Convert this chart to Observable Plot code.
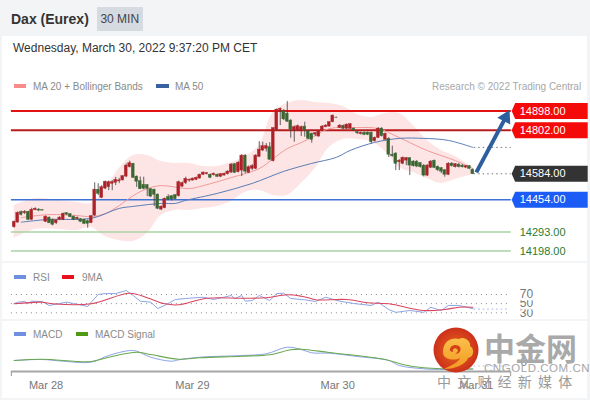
<!DOCTYPE html>
<html>
<head>
<meta charset="utf-8">
<script src="https://cdn.jsdelivr.net/npm/d3@7"></script>
<script src="https://cdn.jsdelivr.net/npm/@observablehq/plot@0.6"></script>
<style>
  html,body{margin:0;padding:0;background:#fff;}
  body{width:590px;height:400px;position:relative;overflow:hidden;font-family:"Liberation Sans",Arial,sans-serif;}
  .abs{position:absolute;white-space:nowrap;}
  .plot{position:absolute;left:0;}
  .lg{color:#8a8a8a;font-size:10px;line-height:12px;}
  .sw{position:absolute;height:4px;width:12px;}
</style>
</head>
<body>
<div class="abs" style="left:0;top:0;width:590px;height:36px;background:#f3f4f6"></div>
<div class="abs" style="left:0;top:36px;width:2px;height:364px;background:#f3f4f6"></div>
<div class="abs" style="left:587px;top:36px;width:3px;height:364px;background:#f3f4f6"></div>
<div class="abs" style="left:0;top:398px;width:590px;height:2px;background:#f3f4f6"></div>
<div class="abs" style="left:0;top:261px;width:590px;height:2px;background:#f3f4f6"></div>
<div class="abs" style="left:0;top:318.5px;width:590px;height:2px;background:#f3f4f6"></div>
<div class="abs" style="left:11px;top:10px;font-size:14px;line-height:18px;font-weight:bold;color:#333">Dax (Eurex)</div>
<div class="abs" style="left:97px;top:7px;width:45.5px;height:24px;background:#d6dae1;color:#444;font-size:12px;line-height:24px;text-align:center">30 MIN</div>
<div class="abs" style="left:13px;top:41px;font-size:12px;line-height:15px;color:#333">Wednesday, March 30, 2022 9:37:20 PM CET</div>

<div class="sw" style="left:14px;top:84px;background:#f98b8b"></div>
<div class="abs lg" style="left:33px;top:81px">MA 20 + Bollinger Bands</div>
<div class="sw" style="left:156px;top:84px;width:13px;background:#37619f"></div>
<div class="abs lg" style="left:175px;top:81px">MA 50</div>
<div class="abs lg" style="left:432px;top:81px;color:#a8a8a8">Research © 2022 Trading Central</div>

<div class="sw" style="left:14px;top:275px;background:#6f8fe0"></div>
<div class="abs lg" style="left:33px;top:272px">RSI</div>
<div class="sw" style="left:62px;top:275px;background:#e8101c"></div>
<div class="abs lg" style="left:82px;top:272px">9MA</div>

<div class="sw" style="left:14px;top:332px;background:#6f8fe0"></div>
<div class="abs lg" style="left:33px;top:329px">MACD</div>
<div class="sw" style="left:76px;top:332px;background:#4f9a12"></div>
<div class="abs lg" style="left:95px;top:329px">MACD Signal</div>

<div id="main" class="plot" style="top:70px"></div>
<div id="rsi" class="plot" style="top:262px"></div>
<div id="macd" class="plot" style="top:320px"></div>

<!-- watermark -->
<svg class="abs" style="left:433px;top:327px" width="46" height="46" viewBox="-23 -23 46 46">
  <defs><radialGradient id="lg" cx="50%" cy="50%" r="55%"><stop offset="0%" stop-color="#ea6a1e"/><stop offset="100%" stop-color="#c92a1a"/></radialGradient>
  <linearGradient id="yg" x1="0" y1="0" x2="0" y2="1"><stop offset="0%" stop-color="#f9c04a"/><stop offset="100%" stop-color="#f39a22"/></linearGradient></defs>
  <circle r="22.5" fill="url(#lg)"/>
  <path d="M-13,2C-13,-10 -3,-13 3,-11C8,-14 15,-9 14,-4C19,-1 18,7 12,8C10,14 0,19 -12,19C-4,15 3,12 4,8C-2,11 -13,10 -13,2Z" fill="url(#yg)"/>
  <path d="M-6,1C-7,-5 1,-7 4,-3C6,1 2,5 -1,3C1,3 3,1 1,-1C-1,-3 -4,-1 -3,2Z" fill="#d4401a"/>
</svg>
<div class="abs" style="left:484px;top:328px;font-family:'Noto Sans CJK SC';font-weight:700;font-size:31px;line-height:38px;color:#a9a9a9;letter-spacing:0">中金网</div>
<div class="abs" style="left:484px;top:362px;font-size:11.5px;line-height:13px;color:#a6a6a6;letter-spacing:.55px">CNGOLD.COM.CN</div>
<div class="abs" style="left:437px;top:373px;font-family:'Noto Sans CJK SC';font-size:14px;line-height:17px;color:#9a9a9a;letter-spacing:6.2px">中文财经新媒体</div>

<script>
// ---- candles (30 min bars, index 0..131) ----
const candleDirection =
  "RRGRGRRGGR"+"GGRRRGGGRG"+"GGRRGRRRRR"+"RRRRGGGGGG"+"GGRRGGGRRR"+"RRRRRRGRGR"+"RRRGRRGRRR"+
  "RRRGRRRGGG"+"RRRGGGRRRR"+"RRGRGRRGGR"+"GGGRRGRGGG"+"RRRGGGGGRR"+"GGGGRGRGGR"+"GG";
const bodyTop = [
14344,14389,14392,14394,14394,14404,14409,14405,14402,14370,
14365,14354,14351,14365,14384,14387,14382,14370,14364,14357,
14354,14347,14372,14505,14504,14517,14544,14542,14542,14554,
14551,14572,14625,14637,14634,14570,14547,14529,14527,14507,
14504,14480,14420,14459,14467,14472,14477,14542,14537,14559,
14554,14560,14564,14579,14590,14587,14579,14584,14579,14582,
14584,14595,14630,14632,14639,14675,14675,14617,14622,14675,
14705,14722,14722,14717,14812,14905,14909,14896,14885,14850,
14817,14822,14817,14820,14795,14784,14787,14797,14820,14825,
14842,14875,14865,14825,14824,14830,14832,14810,14792,14789,
14789,14790,14789,14764,14810,14810,14784,14759,14679,14685,
14649,14664,14662,14662,14645,14645,14637,14625,14625,14645,
14649,14619,14612,14602,14634,14635,14632,14630,14625,14622,
14622,14604];
const bodyBottom = [
14317,14340,14379,14387,14354,14354,14402,14400,14400,14344,
14337,14329,14337,14354,14354,14380,14367,14354,14357,14344,
14334,14334,14337,14375,14484,14464,14510,14517,14534,14539,
14546,14551,14570,14617,14564,14544,14507,14509,14509,14470,
14479,14409,14405,14412,14454,14456,14457,14472,14520,14537,
14550,14550,14554,14560,14579,14582,14564,14577,14569,14569,
14575,14582,14590,14589,14592,14600,14595,14589,14609,14609,
14669,14700,14709,14654,14647,14804,14902,14856,14845,14805,
14800,14800,14800,14804,14759,14754,14780,14770,14800,14817,
14820,14842,14864,14814,14809,14809,14809,14800,14787,14782,
14779,14779,14742,14747,14764,14772,14754,14679,14672,14634,
14642,14634,14650,14625,14622,14620,14617,14575,14575,14614,
14614,14602,14595,14579,14579,14622,14617,14617,14617,14615,
14609,14582];
const wickHigh = [
14348,14393,14398,14400,14396,14412,14414,14410,14403,14373,
14368,14358,14353,14370,14388,14390,14385,14373,14368,14360,
14358,14353,14375,14539,14534,14525,14548,14548,14550,14566,
14561,14575,14633,14647,14636,14573,14568,14567,14530,14510,
14508,14483,14423,14463,14479,14475,14480,14548,14543,14567,
14558,14563,14568,14583,14593,14590,14583,14588,14583,14585,
14588,14600,14635,14635,14645,14680,14680,14623,14630,14680,
14745,14742,14735,14740,14815,14908,14913,14905,14945,14855,
14823,14828,14823,14842,14800,14788,14790,14800,14825,14830,
14845,14878,14867,14830,14828,14833,14835,14813,14795,14793,
14793,14793,14793,14768,14815,14815,14788,14765,14722,14690,
14655,14668,14665,14665,14650,14650,14640,14630,14630,14650,
14653,14623,14615,14605,14640,14640,14635,14635,14630,14625,
14625,14608];
const wickLow = [
14312,14338,14373,14380,14350,14350,14400,14395,14399,14340,
14335,14324,14330,14350,14350,14375,14365,14350,14353,14340,
14330,14312,14335,14370,14475,14460,14505,14500,14500,14525,
14535,14548,14565,14613,14560,14516,14505,14504,14470,14465,
14420,14405,14400,14409,14450,14448,14455,14468,14515,14530,
14542,14548,14550,14558,14575,14578,14560,14573,14565,14565,
14573,14578,14587,14585,14588,14570,14585,14585,14600,14605,
14665,14695,14693,14650,14643,14800,14825,14850,14840,14762,
14742,14795,14770,14767,14755,14737,14770,14768,14798,14814,
14818,14839,14863,14810,14805,14805,14805,14795,14780,14778,
14775,14775,14734,14743,14760,14768,14750,14665,14667,14600,
14600,14630,14625,14575,14618,14615,14613,14568,14570,14610,
14610,14595,14585,14567,14575,14618,14613,14613,14613,14610,
14605,14580];

// ---- Bollinger bands ----
const bandIndex = [0,6,12,18,22,26,30,34,38,42,46,50,54,58,62,66,70,74,78,82,86,90,94,98,102,106,110,114,118,122,126,131];
const bandUpper = [14426,14461,14451,14441,14436,14510,14611,14676,14676,14646,14636,14636,14621,14621,14641,14671,14726,14891,14936,14951,14941,14936,14921,14881,14866,14886,14886,14826,14751,14701,14671,14616];
const bandLower = [14261,14306,14306,14301,14316,14271,14251,14246,14286,14376,14401,14401,14411,14421,14446,14491,14501,14476,14476,14536,14611,14716,14756,14756,14746,14696,14616,14591,14561,14536,14556,14581];

// ---- moving averages ----
const ma20Index = [2,10,18,22,26,30,34,38,42,50,54,62,70,74,78,82,86,90,98,104,110,118,126,131];
const ma20Value = [14365,14380,14375,14370,14385,14425,14475,14510,14525,14510,14525,14565,14610,14660,14710,14740,14775,14810,14815,14810,14765,14700,14650,14610];
const ma50Index = [2,10,22,30,34,42,46,49,58,68,77,85,92,96,103,110,117,124,131];
const ma50Value = [14342,14356,14361,14411,14421,14436,14436,14451,14486,14536,14596,14636,14666,14701,14741,14761,14761,14751,14716];

// ---- price levels ----
const filledLevels = [14898,14802,14584,14454];
const filledLabels = ["14898.00","14802.00","14584.00","14454.00"];
const filledColors = ["#f50a0a","#f50a0a","#333333","#1a5cf5"];
const lineLevels = [14898,14802,14454,14293,14198];
const lineColors = ["#e21212","#b81c1c","#3f72d6","#a9d3a6","#a9d3a6"];
const greenLevels = [14293,14198];
const greenLabels = ["14293.00","14198.00"];

// ---- RSI ----
const rsiIndex = [0,1,3,4,5,8,10,13,15,17,21,22,24,26,29,32,34,36,39,41,43,46,49,54,57,62,63,65,66,68,70,73,75,77,79,82,83,86,89,93,97,102,104,107,109,113,117,119,122,124,127,131];
const rsiValue = [50.3,53.2,54.7,50.3,55.4,54.7,46,50.3,53.2,50.3,43.8,53.2,70,72,72,78.7,67.8,55.4,53.2,39.4,46,59,61.3,64,59,67.8,61,67.8,55.4,56.9,67.8,56.9,72,72.8,61.3,59,58.4,54.7,64,55.4,50.3,46,53,37,31,35,31,42,35,46,46,39];
const ma9Index = [0,8,11,22,33,38,43,47,55,65,72,78,82,84,86,95,101,107,117,123,127,131];
const ma9Value = [49.7,53.2,49.7,49.7,72.8,62.8,49.7,47.5,61.9,61.9,62.8,69.3,66.3,62.8,58.4,59,51.9,49.7,35,37.2,42.2,42.2];
const rsiLevels = [30,50,70];

// ---- MACD ----
const macdIndex = [0,8,14,22,27,33,35,39,45,47,53,65,72,78,82,85,90,98,107,110,117,123,131];
const macdValue = [4,6,2.6,0.6,14,24,22.6,10.6,2.6,5.4,10.6,14,17.4,30.6,26,19.4,18.6,12,4,-6,-12.6,-14,-13];
const signalIndex = [0,8,22,27,35,39,47,53,65,73,79,82,90,106,111,117,123,131];
const signalValue = [4,6.6,2,10.6,20.6,16,6.6,9.4,12.6,15.4,25.4,26.6,20,6,-4,-10.6,-12.6,-13];

// ---- time axis ----
const dayPositions = [9.1,50.9,92.4,132];
const dayLabels = ["Mar 28","Mar 29","Mar 30","Mar 31"];

// ---- forecast arrow ----
const arrowFrom = {x:132, y:14591};
const arrowTo = {x:140.4, y:14866};

// tables built from the lists
const candles = bodyTop.map((t,i)=>({i,top:t,bottom:bodyBottom[i],high:wickHigh[i],low:wickLow[i],up:candleDirection[i]==="R"}));
const zip = (xs,ys)=>xs.map((x,i)=>({x,y:ys[i]}));
const band = bandIndex.map((x,i)=>({x,u:bandUpper[i],l:bandLower[i]}));

const font = "Liberation Sans, Arial, sans-serif";
const xLeft = -0.8, xRight = 142;
const xScale = {axis:null, domain:[0,131], range:[13.7,472.3]};
const base = {width:590, marginLeft:0, marginRight:0, marginTop:0, marginBottom:0,
  style:{background:"transparent",fontFamily:font,overflow:"visible"}, color:{type:"identity"}};

// a price flag with its notch on the left; the dot's point is the tip
const flag = {draw(c){c.moveTo(0,0);c.lineTo(3.5,-8);c.lineTo(76,-8);c.lineTo(76,8);c.lineTo(3.5,8);c.closePath();}};

const RED="#ad2228", GREEN="#3a6632";

const main = Plot.plot({...base, height:190,
  x:xScale, y:{axis:null, domain:[14898,14198], range:[40.5,180.5]},
  marks:[
    Plot.areaY(band,{x:"x",y1:"u",y2:"l",fill:"#fde5e5",curve:"catmull-rom"}),
    Plot.ruleY(lineLevels,{y:d=>d,x1:()=>xLeft,x2:()=>xRight,stroke:(d,i)=>lineColors[i],strokeWidth:(d,i)=>i<2?2:(i===2?1.6:1.3)}),
    Plot.line(zip(ma20Index,ma20Value),{x:"x",y:"y",stroke:"#f09a9a",strokeWidth:1,curve:"catmull-rom"}),
    Plot.line(zip(ma50Index,ma50Value),{x:"x",y:"y",stroke:"#5b7db5",strokeWidth:1,curve:"catmull-rom"}),
    Plot.ruleY([14716,14584],{y:d=>d,x1:()=>131.4,x2:()=>xRight,stroke:"#777",strokeWidth:1,strokeDasharray:"1.5,3"}),
    Plot.ruleX(candles,{x:"i",y1:"high",y2:"low",stroke:"#3a3a3a",strokeWidth:0.8}),
    Plot.rect(candles,{x1:d=>d.i-0.4,x2:d=>d.i+0.4,y1:"top",y2:"bottom",fill:d=>d.up?RED:GREEN,stroke:d=>d.up?RED:GREEN,strokeWidth:0.4}),
    Plot.link([0],{x1:()=>arrowFrom.x,y1:()=>arrowFrom.y,x2:()=>arrowTo.x,y2:()=>arrowTo.y,stroke:"#2d5f9e",strokeWidth:4}),
    Plot.dot([0],{x:()=>arrowTo.x,y:()=>arrowTo.y,symbol:"triangle",r:5.4,rotate:27,fill:"#2d5f9e"}),
    Plot.dot(filledLevels,{x:()=>142.1,y:d=>d,symbol:flag,r:5,fill:(d,i)=>filledColors[i]}),
    Plot.text(filledLevels,{x:()=>144.4,y:d=>d,text:(d,i)=>filledLabels[i],fill:"#fff",fontSize:11,textAnchor:"start",fontFamily:font}),
    Plot.text(greenLevels,{x:()=>144.4,y:d=>d,text:(d,i)=>greenLabels[i],fill:"#2a7d2e",fontSize:11,textAnchor:"start",fontFamily:font})
  ]});
document.getElementById("main").append(main);

const rsi = Plot.plot({...base, height:56,
  x:xScale, y:{axis:null, domain:[70,30], range:[32,50.3]},
  marks:[
    Plot.ruleY(rsiLevels,{y:d=>d,x1:()=>xLeft,x2:()=>141.4,stroke:"#8a8a8a",strokeWidth:1,strokeDasharray:"1,4"}),
    Plot.line(zip(rsiIndex,rsiValue),{x:"x",y:"y",stroke:"#7f9ae2",strokeWidth:0.9}),
    Plot.line(zip(ma9Index,ma9Value),{x:"x",y:"y",stroke:"#d9455f",strokeWidth:1.1,curve:"catmull-rom"}),
    Plot.ruleY([38],{y:d=>d,x1:()=>131.4,x2:()=>141.4,stroke:"#aebfee",strokeWidth:1.2,strokeDasharray:"1.5,3"}),
    Plot.text(rsiLevels,{x:()=>144.4,y:d=>d,text:d=>String(d),fill:"#777",fontSize:12,textAnchor:"start",stroke:"#fff",strokeWidth:5,paintOrder:"stroke",fontFamily:font})
  ]});
document.getElementById("rsi").append(rsi);

const macd = Plot.plot({...base, height:78,
  x:xScale, y:{axis:null, domain:[0,-20], range:[42,52]},
  marks:[
    Plot.line(zip(macdIndex,macdValue),{x:"x",y:"y",stroke:"#7f9ae2",strokeWidth:0.9,curve:"catmull-rom"}),
    Plot.line(zip(signalIndex,signalValue),{x:"x",y:"y",stroke:"#6aa84f",strokeWidth:1.1,curve:"catmull-rom"}),
    Plot.ruleY([-7],{y:d=>d,x1:()=>131.4,x2:()=>141.4,stroke:"#aebfee",strokeWidth:1.2,strokeDasharray:"1.5,3"}),
    Plot.ruleY([-18],{y:d=>d,x1:()=>xLeft,x2:()=>141.8,stroke:"#a6a6a6",strokeWidth:2}),
    Plot.ruleX([xLeft,141.8],{x:d=>d,y1:()=>-18,y2:()=>-28,stroke:"#a6a6a6",strokeWidth:1.2}),
    Plot.text(dayPositions,{x:d=>d,y:()=>-46,text:(d,i)=>dayLabels[i],fill:"#777",fontSize:11,fontFamily:font}),
    Plot.text([0],{x:()=>144.6,y:d=>d,text:()=>"0",fill:"#777",fontSize:12,textAnchor:"start",fontFamily:font})
  ]});
document.getElementById("macd").append(macd);
</script>
</body>
</html>
